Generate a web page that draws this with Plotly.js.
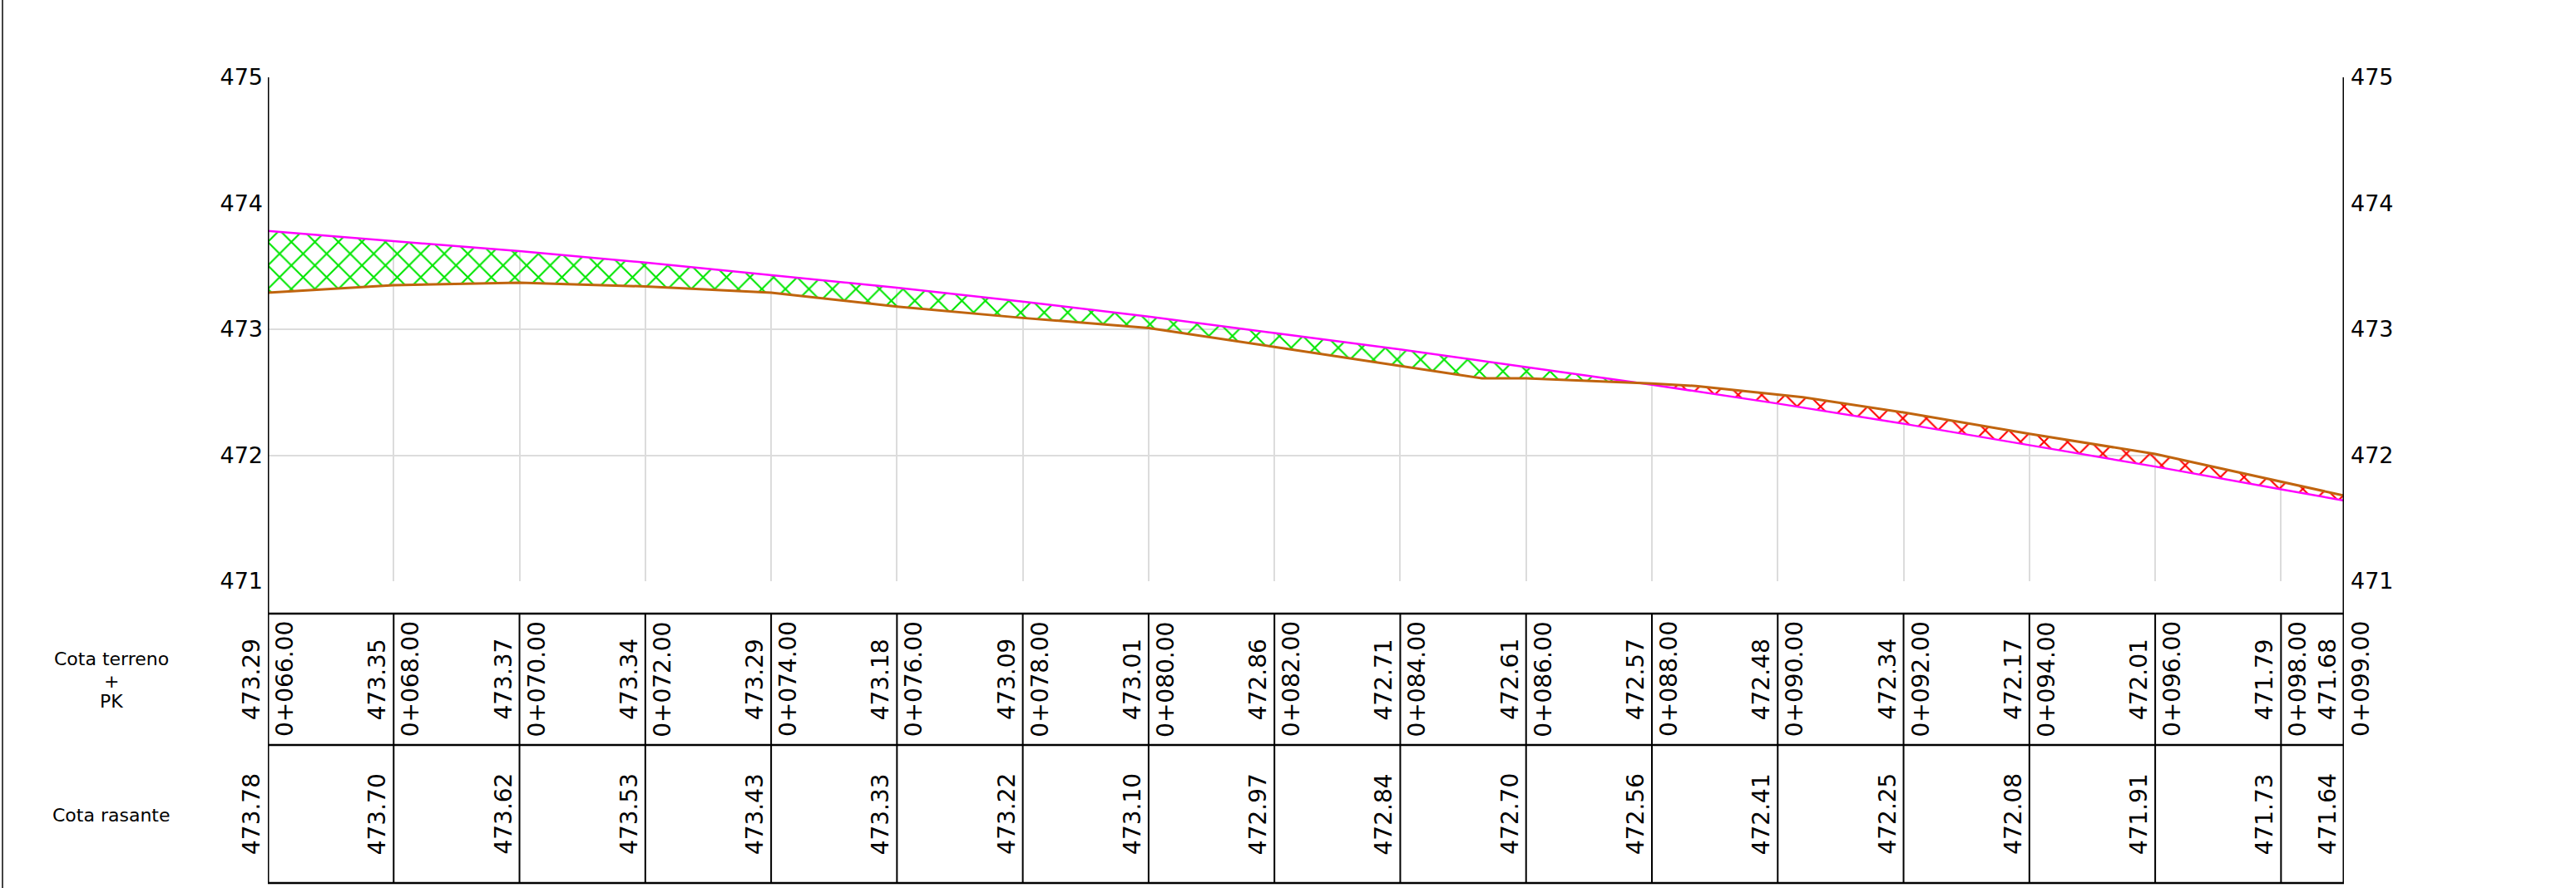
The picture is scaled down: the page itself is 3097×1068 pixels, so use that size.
<!DOCTYPE html>
<html>
<head>
<meta charset="utf-8">
<script src="https://cdn.plot.ly/plotly-3.0.1.min.js"></script>
<style>
  html, body { margin: 0; padding: 0; background: #ffffff; }
  #chart { width: 3097px; height: 1068px; }
</style>
</head>
<body>
<div id="chart"></div>
<script>
// ---------------- DATA ----------------
const pkStations = [66, 68, 70, 72, 74, 76, 78, 80, 82, 84, 86, 88, 90, 92, 94, 96, 98, 99];
const pkLabels = ["0+066.00", "0+068.00", "0+070.00", "0+072.00", "0+074.00", "0+076.00",
                  "0+078.00", "0+080.00", "0+082.00", "0+084.00", "0+086.00", "0+088.00",
                  "0+090.00", "0+092.00", "0+094.00", "0+096.00", "0+098.00", "0+099.00"];
const cotaTerreno = [473.29, 473.35, 473.37, 473.34, 473.29, 473.18, 473.09, 473.01, 472.86,
                     472.71, 472.61, 472.57, 472.48, 472.34, 472.17, 472.01, 471.79, 471.68];
const cotaRasante = [473.78, 473.70, 473.62, 473.53, 473.43, 473.33, 473.22, 473.10, 472.97,
                     472.84, 472.70, 472.56, 472.41, 472.25, 472.08, 471.91, 471.73, 471.64];
// extra vertices of the ground line (between table stations)
const terrenoExtraPk = [85.3, 88.7, 90.4];
const terrenoExtraCota = [472.61, 472.55, 472.46];
const yTicks = [471, 472, 473, 474, 475];
const yTickText = ["471", "472", "473", "474", "475"];
const rowLabelTerreno = ["Cota terreno", "+", "PK"];
const rowLabelRasante = "Cota rasante";

// ---------------- LAYOUT CONSTANTS (pixels) ----------------
const W = 3097, H = 1068;
const L = 322, R = 2818, T = 93, B = 699;
const tableTop = 738, tableMid = 896, tableBot = 1062;
const row1Center = 817, row2Center = 979;
const px = X => (X - L) / (R - L);
const py = Y => (B - Y) / (B - T);
const FONT = "DejaVu Sans";

// ---------------- GEOMETRY (derived from data) ----------------
const tPts = pkStations.map((x, i) => [x, cotaTerreno[i]])
  .concat(terrenoExtraPk.map((x, i) => [x, terrenoExtraCota[i]]))
  .sort((a, b) => a[0] - b[0]);
const tX = tPts.map(p => p[0]);
const tY = tPts.map(p => p[1]);

function lin(xs, ys, x) {
  for (let i = 0; i < xs.length - 1; i++) {
    if (x >= xs[i] && x <= xs[i + 1]) {
      const f = (x - xs[i]) / (xs[i + 1] - xs[i]);
      return ys[i] + f * (ys[i + 1] - ys[i]);
    }
  }
  return ys[ys.length - 1];
}

const mx = Array.from(new Set(tX.concat(pkStations))).sort((a, b) => a - b);
const pts = [];
for (let i = 0; i < mx.length; i++) {
  const x = mx[i];
  const t = lin(tX, tY, x), r = lin(pkStations, cotaRasante, x);
  if (pts.length) {
    const p = pts[pts.length - 1];
    const d0 = p.r - p.t, d1 = r - t;
    if (d0 * d1 < 0) {
      const f = d0 / (d0 - d1);
      const xc = p.x + f * (x - p.x);
      const yc = p.t + f * (t - p.t);
      pts.push({ x: xc, t: yc, r: yc });
    }
  }
  pts.push({ x, t, r });
}

const regions = [];
let cur = null;
for (let i = 0; i < pts.length - 1; i++) {
  const a = pts[i], b = pts[i + 1];
  const s = ((a.r - a.t) + (b.r - b.t)) > 0 ? 1 : -1;
  if (!cur || cur.s !== s) { cur = { s, pts: [a] }; regions.push(cur); }
  cur.pts.push(b);
}

// ---------------- TRACES ----------------
const traces = [];
// white mask above the profile (hides grid above the profile, as in the drawing)
traces.push({
  type: "scatter", mode: "none", hoverinfo: "skip",
  x: pts.map(p => p.x).concat([99, 66]),
  y: pts.map(p => Math.max(p.r, p.t)).concat([475, 475]),
  fill: "toself", fillcolor: "#ffffff"
});
regions.forEach(rg => {
  const xs = rg.pts.map(p => p.x);
  traces.push({
    type: "scatter", mode: "none", hoverinfo: "skip",
    x: xs.concat(xs.slice().reverse()),
    y: rg.pts.map(p => p.r).concat(rg.pts.map(p => p.t).reverse()),
    fill: "toself", fillcolor: "rgba(0,0,0,0)",
    fillpattern: {
      shape: "x", size: 20, solidity: 0.2,
      fgcolor: rg.s > 0 ? "#00e600" : "#ff0000",
      bgcolor: "rgba(0,0,0,0)", fillmode: "replace"
    }
  });
});
traces.push({
  type: "scatter", mode: "lines", hoverinfo: "skip", name: "Cota rasante",
  x: pkStations, y: cotaRasante,
  line: { color: "#ff00ff", width: 2.5 }
});
traces.push({
  type: "scatter", mode: "lines", hoverinfo: "skip", name: "Cota terreno",
  x: tX, y: tY,
  line: { color: "#c0640e", width: 3 }
});
traces.push({
  type: "scatter", mode: "none", hoverinfo: "skip", yaxis: "y2",
  x: [66, 99], y: [471, 475]
});

// ---------------- SHAPES ----------------
const shapes = [];
const blk = "#000000";
// outer left frame line
shapes.push({ type: "line", xref: "paper", yref: "paper", x0: px(3), x1: px(3), y0: py(0), y1: py(H), line: { color: "#444444", width: 2 }, layer: "above" });
// vertical axes extended through the table
[pkStations[0], pkStations[pkStations.length - 1]].forEach(x => {
  shapes.push({ type: "line", xref: "x", yref: "paper", x0: x, x1: x, y0: py(tableBot), y1: 1, line: { color: blk, width: 3 }, layer: "above" });
});
// horizontal table lines
[tableTop, tableMid, tableBot].forEach(Y => {
  shapes.push({ type: "line", xref: "x", yref: "paper", x0: pkStations[0], x1: pkStations[pkStations.length - 1], y0: py(Y), y1: py(Y), line: { color: blk, width: 2.5 }, layer: "above" });
});
// station separators
pkStations.slice(1, -1).forEach(x => {
  shapes.push({ type: "line", xref: "x", yref: "paper", x0: x, x1: x, y0: py(tableTop), y1: py(tableBot), line: { color: blk, width: 2 }, layer: "above" });
});

// ---------------- ANNOTATIONS ----------------
const annotations = [];
const tf = { family: FONT, size: 28, color: "#000" };
pkStations.forEach((x, i) => {
  annotations.push({ x, y: py(row1Center), xref: "x", yref: "paper", text: cotaTerreno[i].toFixed(2), showarrow: false, textangle: -90, xanchor: "center", yanchor: "middle", xshift: -20, font: tf });
  annotations.push({ x, y: py(row1Center), xref: "x", yref: "paper", text: pkLabels[i], showarrow: false, textangle: -90, xanchor: "center", yanchor: "middle", xshift: 20, font: tf });
  annotations.push({ x, y: py(row2Center), xref: "x", yref: "paper", text: cotaRasante[i].toFixed(2), showarrow: false, textangle: -90, xanchor: "center", yanchor: "middle", xshift: -20, font: tf });
});
const lf = { family: FONT, size: 22, color: "#000" };
const rowLabelY = [792, 819, 843];
rowLabelTerreno.forEach((t, i) => {
  annotations.push({ x: px(134), y: py(rowLabelY[i]), xref: "paper", yref: "paper", text: t, showarrow: false, xanchor: "center", yanchor: "middle", font: lf });
});
annotations.push({ x: px(134), y: py(980), xref: "paper", yref: "paper", text: rowLabelRasante, showarrow: false, xanchor: "center", yanchor: "middle", font: lf });

// ---------------- LAYOUT ----------------
const tickFont = { family: FONT, size: 27, color: "#000" };
const layout = {
  width: W, height: H,
  margin: { l: L, r: W - R, t: T, b: H - B, pad: 0 },
  paper_bgcolor: "#ffffff", plot_bgcolor: "#ffffff",
  showlegend: false,
  font: { family: FONT, color: "#000" },
  xaxis: {
    range: [66, 99], tickmode: "linear", tick0: 66, dtick: 2,
    showgrid: true, gridcolor: "#dcdcdc", gridwidth: 2,
    showticklabels: false, ticks: "", zeroline: false, showline: false, fixedrange: true
  },
  yaxis: {
    range: [471, 475], tickmode: "array", tickvals: yTicks, ticktext: yTickText,
    showgrid: true, gridcolor: "#dcdcdc", gridwidth: 2,
    ticks: "", ticklabelstandoff: 5, zeroline: false, showline: false,
    tickfont: tickFont, fixedrange: true
  },
  yaxis2: {
    overlaying: "y", side: "right", range: [471, 475], tickmode: "array", tickvals: yTicks, ticktext: yTickText,
    showgrid: false, ticks: "", ticklabelstandoff: 7, zeroline: false, showline: false,
    tickfont: tickFont, fixedrange: true
  },
  shapes, annotations
};

Plotly.newPlot("chart", traces, layout, { staticPlot: true, displayModeBar: false });
</script>
</body>
</html>
